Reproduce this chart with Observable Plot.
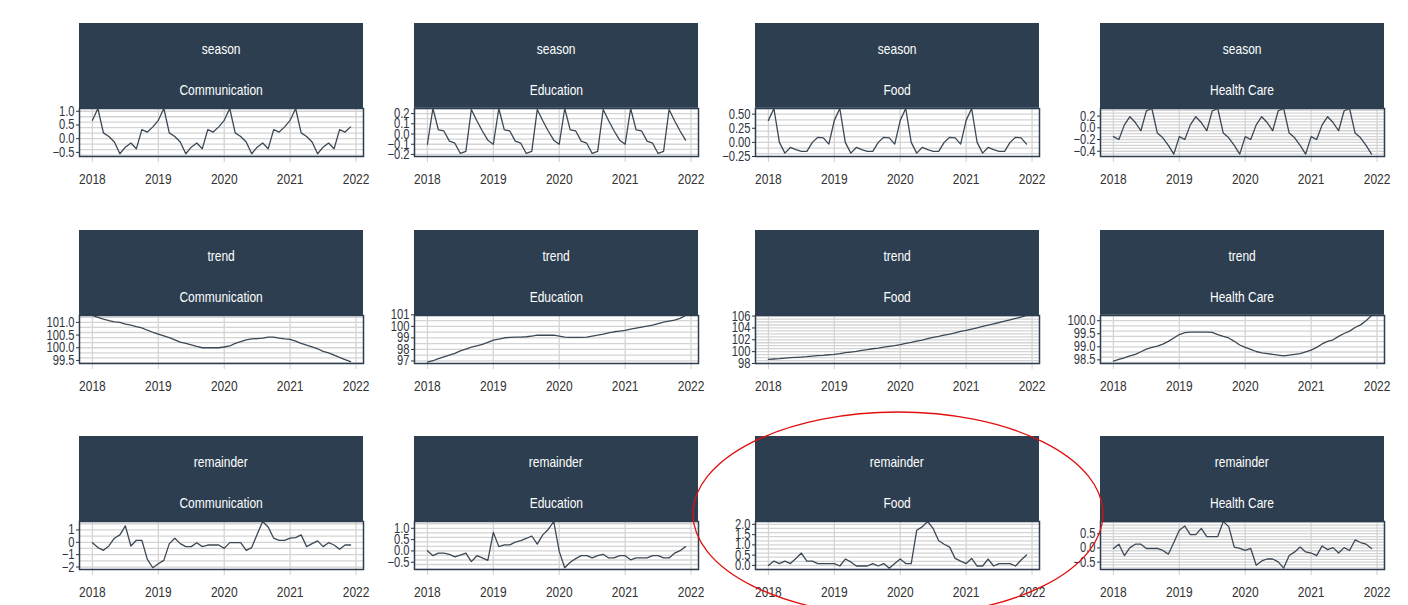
<!DOCTYPE html>
<html>
<head>
<meta charset="utf-8">
<script src="https://cdn.jsdelivr.net/npm/d3@7"></script>
<script src="https://cdn.jsdelivr.net/npm/@observablehq/plot@0.6"></script>
<style>
  body { margin: 0; background: #ffffff; }
  #wrap { position: relative; width: 1408px; height: 605px; overflow: hidden;
    font-family: "Liberation Sans", Arial, sans-serif; }
  .hdr { position: absolute; background: #2c3e50; color: #ffffff; font-size: 15px; text-align: center; }
  .hdr div { position: absolute; left: 0; right: 0; height: 16px; line-height: 16px; }
  .hdr span { display: inline-block; transform: scaleX(0.8); transform-origin: 50% 50%; }
  .panel-svg { position: absolute; }
  #anno { position: absolute; left: 0; top: 0; pointer-events: none; }
</style>
</head>
<body>
<div id="wrap"></div>
<script>
// ---------------- data ----------------
const components = ["season", "trend", "remainder"];
const categories = ["Communication", "Education", "Food", "Health Care"];
const yearTicks = [2018, 2019, 2020, 2021, 2022];

const seasonCommunication = [
  0.67, 1.10, 0.21, 0.08, -0.12, -0.55, -0.31, -0.16, -0.37, 0.33, 0.24, 0.43,
  0.67, 1.10, 0.21, 0.08, -0.12, -0.55, -0.31, -0.16, -0.37, 0.33, 0.24, 0.43,
  0.67, 1.10, 0.21, 0.08, -0.12, -0.55, -0.31, -0.16, -0.37, 0.33, 0.24, 0.43,
  0.67, 1.10, 0.21, 0.08, -0.12, -0.55, -0.31, -0.16, -0.37, 0.33, 0.24, 0.43];
const seasonEducation = [
  -0.10, 0.25, 0.04, 0.03, -0.07, -0.09, -0.19, -0.17, 0.24, 0.13, 0.03, -0.06,
  -0.10, 0.25, 0.04, 0.03, -0.07, -0.09, -0.19, -0.17, 0.24, 0.13, 0.03, -0.06,
  -0.10, 0.25, 0.04, 0.03, -0.07, -0.09, -0.19, -0.17, 0.24, 0.13, 0.03, -0.06,
  -0.10, 0.25, 0.04, 0.03, -0.07, -0.09, -0.19, -0.17, 0.24, 0.13, 0.03, -0.06];
const seasonFood = [
  0.39, 0.60, 0.00, -0.19, -0.09, -0.13, -0.16, -0.16, 0.00, 0.09, 0.08, -0.03,
  0.39, 0.60, 0.00, -0.19, -0.09, -0.13, -0.16, -0.16, 0.00, 0.09, 0.08, -0.03,
  0.39, 0.60, 0.00, -0.19, -0.09, -0.13, -0.16, -0.16, 0.00, 0.09, 0.08, -0.03,
  0.39, 0.60, 0.00, -0.19, -0.09, -0.13, -0.16, -0.16, 0.00, 0.09, 0.08, -0.03];
const seasonHealthCare = [
  -0.15, -0.20, 0.05, 0.19, 0.09, -0.05, 0.29, 0.33, -0.09, -0.17, -0.30, -0.45,
  -0.15, -0.20, 0.05, 0.19, 0.09, -0.05, 0.29, 0.33, -0.09, -0.17, -0.30, -0.45,
  -0.15, -0.20, 0.05, 0.19, 0.09, -0.05, 0.29, 0.33, -0.09, -0.17, -0.30, -0.45,
  -0.15, -0.20, 0.05, 0.19, 0.09, -0.05, 0.29, 0.33, -0.09, -0.17, -0.30, -0.45];

const trendCommunication = [
  101.27, 101.20, 101.13, 101.07, 101.02, 101.00, 100.93, 100.89, 100.83, 100.78, 100.69, 100.61,
  100.54, 100.47, 100.40, 100.31, 100.22, 100.17, 100.11, 100.05, 100.00, 100.00, 100.00, 100.00,
  100.03, 100.07, 100.17, 100.24, 100.31, 100.35, 100.36, 100.38, 100.42, 100.42, 100.38, 100.35,
  100.33, 100.26, 100.17, 100.10, 100.03, 99.96, 99.86, 99.80, 99.71, 99.62, 99.53, 99.45];
const trendEducation = [
  96.90, 97.02, 97.21, 97.36, 97.51, 97.66, 97.88, 98.03, 98.19, 98.31, 98.43, 98.61,
  98.80, 98.89, 99.01, 99.04, 99.07, 99.07, 99.10, 99.16, 99.23, 99.23, 99.23, 99.23,
  99.16, 99.07, 99.04, 99.04, 99.04, 99.07, 99.16, 99.23, 99.32, 99.44, 99.53, 99.59,
  99.65, 99.75, 99.84, 99.93, 100.02, 100.11, 100.24, 100.36, 100.45, 100.54, 100.69, 100.94];
const trendFood = [
  98.70, 98.76, 98.81, 98.92, 98.98, 99.04, 99.09, 99.15, 99.26, 99.32, 99.37, 99.48,
  99.54, 99.65, 99.82, 99.93, 100.05, 100.22, 100.33, 100.49, 100.61, 100.77, 100.89, 101.00,
  101.17, 101.39, 101.56, 101.78, 101.95, 102.18, 102.40, 102.57, 102.79, 102.96, 103.18, 103.41,
  103.58, 103.80, 104.03, 104.25, 104.47, 104.70, 104.92, 105.15, 105.37, 105.60, 105.82, 106.10];
const trendHealthCare = [
  98.45, 98.52, 98.58, 98.65, 98.71, 98.81, 98.91, 98.98, 99.03, 99.10, 99.21, 99.34,
  99.47, 99.54, 99.56, 99.56, 99.56, 99.56, 99.55, 99.47, 99.40, 99.34, 99.21, 99.07,
  98.98, 98.90, 98.82, 98.77, 98.74, 98.71, 98.68, 98.65, 98.68, 98.71, 98.74, 98.81,
  98.87, 98.98, 99.11, 99.21, 99.27, 99.40, 99.51, 99.60, 99.74, 99.84, 100.00, 100.20];

const remainderCommunication = [
  -0.03, -0.43, -0.65, -0.30, 0.33, 0.60, 1.33, -0.30, 0.16, 0.16, -1.38, -2.06,
  -1.73, -1.46, -0.11, 0.33, -0.11, -0.35, -0.35, -0.03, -0.35, -0.22, -0.22, -0.22,
  -0.49, -0.03, -0.03, -0.03, -0.65, -0.43, 0.65, 1.68, 1.24, 0.33, 0.16, 0.16,
  0.33, 0.38, 0.60, -0.35, -0.11, 0.11, -0.35, -0.03, -0.22, -0.57, -0.22, -0.22];
const remainderEducation = [
  0.01, -0.21, -0.10, -0.10, -0.15, -0.26, -0.18, -0.10, -0.47, -0.21, -0.31, -0.42,
  0.82, 0.19, 0.27, 0.27, 0.39, 0.46, 0.55, 0.66, 0.30, 0.71, 0.95, 1.30,
  -0.02, -0.74, -0.50, -0.34, -0.21, -0.21, -0.31, -0.21, -0.15, -0.31, -0.31, -0.21,
  -0.21, -0.39, -0.31, -0.31, -0.31, -0.21, -0.21, -0.31, -0.31, -0.10, 0.01, 0.19];
const remainderFood = [
  0.00, 0.21, 0.09, 0.21, 0.09, 0.34, 0.60, 0.21, 0.21, 0.09, 0.09, 0.09,
  0.09, -0.03, 0.31, 0.17, -0.03, -0.03, -0.03, 0.09, -0.03, 0.09, -0.14, 0.09,
  0.31, 0.09, 0.09, 1.71, 1.88, 2.14, 1.79, 1.20, 1.03, 0.89, 0.34, 0.21,
  0.09, 0.34, -0.03, -0.03, 0.31, -0.03, 0.09, 0.09, 0.09, -0.03, 0.26, 0.51];
const remainderHealthCare = [
  -0.02, 0.13, -0.27, 0.01, 0.13, 0.13, -0.02, -0.02, -0.02, -0.09, -0.22, 0.19,
  0.62, 0.77, 0.47, 0.47, 0.69, 0.40, 0.40, 0.40, 0.93, 0.75, 0.03, -0.02,
  -0.09, -0.02, -0.61, -0.46, -0.39, -0.39, -0.49, -0.71, -0.27, -0.14, 0.03, -0.14,
  -0.18, -0.27, 0.07, -0.06, 0.01, -0.18, 0.01, -0.09, 0.28, 0.19, 0.13, -0.02];

// y-axis tick labels per panel
const yTicksSeason = [[-0.5, 0, 0.5, 1.0], [-0.2, -0.1, 0, 0.1, 0.2], [-0.25, 0, 0.25, 0.5], [-0.4, -0.2, 0, 0.2]];
const yTicksTrend = [[99.5, 100, 100.5, 101], [97, 98, 99, 100, 101], [98, 100, 102, 104, 106], [98.5, 99, 99.5, 100]];
const yTicksRemainder = [[-2, -1, 0, 1], [-0.5, 0, 0.5, 1.0], [0, 0.5, 1, 1.5, 2], [-0.5, 0, 0.5]];

// ---------------- layout ----------------
const series = {
  season: [seasonCommunication, seasonEducation, seasonFood, seasonHealthCare],
  trend: [trendCommunication, trendEducation, trendFood, trendHealthCare],
  remainder: [remainderCommunication, remainderEducation, remainderFood, remainderHealthCare]
};
const yTicks = { season: yTicksSeason, trend: yTicksTrend, remainder: yTicksRemainder };
const yFormats = {
  season: [".1f", ".1f", ".2f", ".1f"],
  trend: [".1f", "d", "d", ".1f"],
  remainder: ["d", ".1f", ".1f", ".1f"]
};
const yDomains = {
  season: [[-0.65, 1.10], [-0.22, 0.25], [-0.25, 0.60], [-0.49, 0.33]],
  trend: [[99.38, 101.27], [96.78, 100.94], [98.0, 106.1], [98.36, 100.20]],
  remainder: [[-2.2, 1.68], [-0.82, 1.30], [-0.2, 2.14], [-0.76, 0.93]]
};

const months = d3.utcMonth.range(new Date(Date.UTC(2018, 0, 1)), new Date(Date.UTC(2022, 0, 1)))
  .map(d => d.getUTCFullYear() + d.getUTCMonth() / 12);

const FONT = '"Liberation Sans", Arial, sans-serif';
const colLeft = [79, 414, 755, 1100];
const rowTop = [23, 230, 436];
const panelW = 284, headerH = 85, plotH = 48;
const mL = 46, mR = 12, mB = 34;

const wrap = document.getElementById("wrap");

function narrowTexts(svg) {
  svg.querySelectorAll("text").forEach(t => {
    const tr = t.getAttribute("transform");
    if (tr) t.setAttribute("transform", tr + " scale(0.8,1)");
  });
}

components.forEach((comp, r) => {
  categories.forEach((cat, c) => {
    const hdr = document.createElement("div");
    hdr.className = "hdr";
    hdr.style.left = colLeft[c] + "px";
    hdr.style.top = rowTop[r] + "px";
    hdr.style.width = panelW + "px";
    hdr.style.height = headerH + "px";
    const l1 = document.createElement("div"); l1.style.top = "18px";
    const s1 = document.createElement("span"); s1.textContent = comp; l1.appendChild(s1);
    const l2 = document.createElement("div"); l2.style.top = "59px";
    const s2 = document.createElement("span"); s2.textContent = cat; l2.appendChild(s2);
    hdr.appendChild(l1); hdr.appendChild(l2);
    wrap.appendChild(hdr);

    const values = series[comp][c];
    const dom = yDomains[comp][c];
    const chart = Plot.plot({
      width: panelW + mL + mR,
      height: plotH + mB,
      marginLeft: mL, marginRight: mR, marginTop: 0, marginBottom: mB,
      x: { domain: [2017.804, 2022.113] },
      y: { domain: dom },
      style: { fontFamily: FONT, fontSize: "15px", color: "#333333", background: "transparent", overflow: "visible" },
      marks: [
        Plot.gridY(d3.ticks(dom[0], dom[1], 12), { stroke: "#d4d4d4", strokeOpacity: 1, strokeWidth: 1.3 }),
        Plot.gridX(yearTicks, { stroke: "#d4d4d4", strokeOpacity: 1, strokeWidth: 1.3 }),
        Plot.axisX(yearTicks, { tickFormat: d3.format("d"), tickSize: 6, tickPadding: 11, stroke: "#cfcfcf", fill: "#333333", fontSize: 15 }),
        Plot.axisY(yTicks[comp][c], { tickFormat: d3.format(yFormats[comp][c]), tickSize: 3, tickPadding: 2, stroke: "#333333", fill: "#2f3540", fontSize: 14 }),
        Plot.lineY(values, { x: (d, i) => months[i], y: d => d, stroke: "#3b4856", strokeWidth: 1.3 }),
        Plot.frame({ stroke: "#2c3e50", strokeWidth: 1.5 })
      ]
    });
    narrowTexts(chart);
    chart.classList.add("panel-svg");
    chart.style.left = (colLeft[c] - mL) + "px";
    chart.style.top = (rowTop[r] + headerH) + "px";
    wrap.appendChild(chart);
  });
});

// red highlight ellipse annotation around the Food remainder panel
const ns = "http://www.w3.org/2000/svg";
const anno = document.createElementNS(ns, "svg");
anno.setAttribute("id", "anno");
anno.setAttribute("width", 1408);
anno.setAttribute("height", 605);
const ell = document.createElementNS(ns, "ellipse");
ell.setAttribute("cx", 898); ell.setAttribute("cy", 514);
ell.setAttribute("rx", 205); ell.setAttribute("ry", 102);
ell.setAttribute("fill", "none"); ell.setAttribute("stroke", "#e01010"); ell.setAttribute("stroke-width", 1.3);
anno.appendChild(ell);
wrap.appendChild(anno);
</script>
</body>
</html>
